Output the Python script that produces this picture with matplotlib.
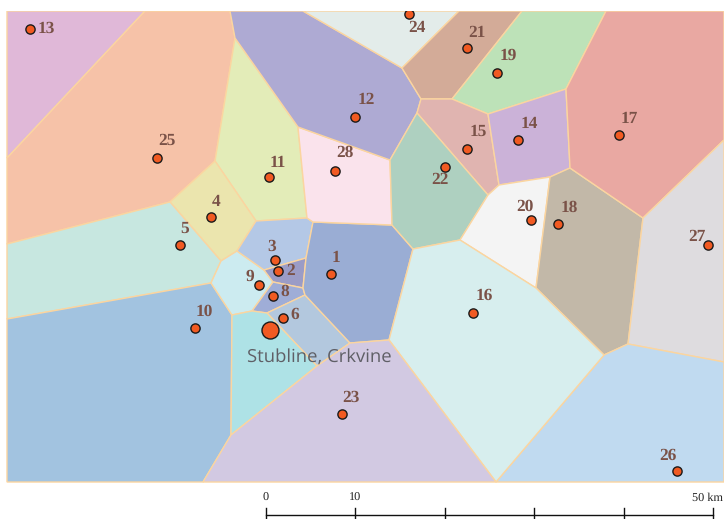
import matplotlib
matplotlib.use("Agg")
import matplotlib.pyplot as plt
from matplotlib.patches import Polygon, Rectangle

plt.rcParams['text.hinting'] = 'none'

cell_ids = ['13', '25', '11', '4', '5', '10', '9', '3', '2', '8', '6', '7', '1', '28',
            '12', '24', '21', '19', '15', '14', '22', '20', '18', '17', '27', '26', '16', '23']

cell_shapes = [
    [(7, 11), (145, 11), (7, 158)],
    [(145, 11), (230, 11), (235, 38), (215, 161), (170, 202), (7, 244), (7, 158)],
    [(235, 38), (298, 127), (307, 218), (256, 221), (215, 161)],
    [(215, 161), (256, 221), (237, 251), (221, 261), (170, 202)],
    [(7, 244), (170, 202), (221, 261), (211, 283), (7, 319)],
    [(7, 319), (211, 283), (232, 315), (231, 435), (203, 482), (7, 482)],
    [(221, 261), (237, 251), (264, 270), (273, 282), (252, 311), (232, 315), (211, 283)],
    [(256, 221), (307, 218), (313, 222), (306, 258), (264, 270), (237, 251)],
    [(264, 270), (306, 258), (303, 288), (273, 282)],
    [(273, 282), (303, 288), (305, 295), (267, 313), (252, 311)],
    [(267, 313), (305, 295), (350, 343), (317, 366)],
    [(232, 315), (252, 311), (267, 313), (317, 366), (231, 435)],
    [(313, 222), (392, 225), (413, 249), (389, 340), (350, 343), (305, 295), (303, 288), (306, 258)],
    [(298, 127), (390, 160), (392, 225), (313, 222), (307, 218)],
    [(230, 11), (303, 11), (402, 68), (421, 99), (417, 113), (390, 160), (298, 127), (235, 38)],
    [(303, 11), (459, 11), (402, 68)],
    [(459, 11), (522, 11), (452, 99), (421, 99), (402, 68)],
    [(522, 11), (606, 11), (566, 89), (488, 114), (452, 99)],
    [(421, 99), (452, 99), (488, 114), (499, 185), (488, 195), (417, 113)],
    [(488, 114), (566, 89), (570, 168), (550, 177), (499, 185)],
    [(417, 113), (488, 195), (460, 240), (413, 249), (392, 225), (390, 160)],
    [(499, 185), (550, 177), (536, 288), (460, 240), (488, 195)],
    [(550, 177), (570, 168), (643, 218), (628, 344), (604, 355), (536, 288)],
    [(606, 11), (724, 11), (724, 140), (643, 218), (570, 168), (566, 89)],
    [(724, 140), (724, 362), (628, 344), (643, 218)],
    [(724, 362), (628, 344), (604, 355), (496, 482), (724, 482)],
    [(413, 249), (460, 240), (536, 288), (604, 355), (496, 482), (389, 340)],
    [(350, 343), (389, 340), (496, 482), (203, 482), (231, 435), (317, 366)],
]

cell_colors = ['#e0b8d8', '#f6c2a8', '#e3ecb8', '#ebe5ae', '#c7e7e0', '#a2c3e0', '#ccebf0',
               '#b4c8e6', '#9b9cc6', '#9fadd7', '#b3c8de', '#aee2e6', '#9aadd4', '#fae3ec',
               '#aeaad3', '#e3ecea', '#d3ab98', '#bde2b8', '#e0b4b0', '#cbb2d8', '#aed0c0',
               '#f4f4f4', '#c2b8a8', '#e9a8a2', '#dedcdf', '#c0daf0', '#d7eeee', '#d2c9e2']

site_ids = ['1', '2', '3', '4', '5', '6', '8', '9', '10', '11', '12', '13', '14', '15',
            '16', '17', '18', '19', '20', '21', '22', '23', '24', '25', '26', '27', '28']
site_x = [331, 278, 275, 211, 180, 283, 273, 259, 195, 269, 355, 30, 518, 467,
          473, 619, 558, 497, 531, 467, 445, 342, 409, 157, 677, 708, 335]
site_y = [274, 271, 260, 217, 245, 318, 296, 285, 328, 177, 117, 29, 140, 149,
          313, 135, 224, 73, 220, 48, 167, 414, 14, 158, 471, 245, 171]
label_x = [336, 291, 272, 216, 185, 295, 285, 250, 204, 278, 366, 46, 529, 478,
           484, 629, 569, 508, 525, 477, 440, 351, 417, 167, 668, 697, 345]
label_y = [258, 271, 247, 202, 229, 315, 292, 277, 312, 163, 100, 29, 124, 132,
           296, 119, 208, 56, 207, 33, 180, 398, 28, 141, 456, 237, 153]

main_site = (270, 330)
main_name = 'Stubline, Crkvine'

scale_km = [0, 10, 20, 30, 40, 50]
scale_labels = {0: '0', 10: '10', 50: '50 km'}
PX_PER_KM = 8.94
SCALE_X0 = 266

EDGE = '#fbd5a0'
DOT = '#f15a22'
LABEL = '#7a5248'

fig = plt.figure(figsize=(7.24, 5.19), dpi=100)
ax = fig.add_axes([0, 0, 1, 1])
ax.set_xlim(0, 724)
ax.set_ylim(519, 0)
ax.axis('off')

for shape, color in zip(cell_shapes, cell_colors):
    ax.add_patch(Polygon(shape, closed=True, facecolor=color, edgecolor=EDGE, linewidth=1.0, zorder=1))

ax.scatter(site_x, site_y, s=44, c=DOT, edgecolors='#1a1a1a', linewidths=1.0, zorder=3)
ax.scatter(*main_site, s=150, c=DOT, edgecolors='#1a1a1a', linewidths=1.0, zorder=3)

# the reference cuts the map at the top, dot 24 included
ax.add_patch(Rectangle((0, 0), 724, 10.5, facecolor='white', edgecolor='none', zorder=4))

for sid, x, y in zip(site_ids, label_x, label_y):
    ax.text(x, y, sid, fontsize=12.5, fontweight='bold', family='Liberation Serif',
            color=LABEL, ha='center', va='center', zorder=5)

ax.text(319, 358, main_name, fontsize=13.3, family='Open Sans', color='#5f5f66',
        ha='center', va='center', zorder=5)

# scale bar
scale_x = [SCALE_X0 + km * PX_PER_KM for km in scale_km]
ax.plot([scale_x[0], scale_x[-1]], [515, 515], color='#111111', lw=1.0, zorder=5)
for km, x in zip(scale_km, scale_x):
    ax.plot([x, x], [508, 519], color='#111111', lw=1.0, zorder=5)
    if km in scale_labels:
        ha = 'right' if km == 50 else 'center'
        lx = 723 if km == 50 else x
        ax.text(lx, 498, scale_labels[km], fontsize=8.8, family='Liberation Serif',
                color='#222222', ha=ha, va='center', zorder=5)

fig.savefig('out.png', dpi=100)
